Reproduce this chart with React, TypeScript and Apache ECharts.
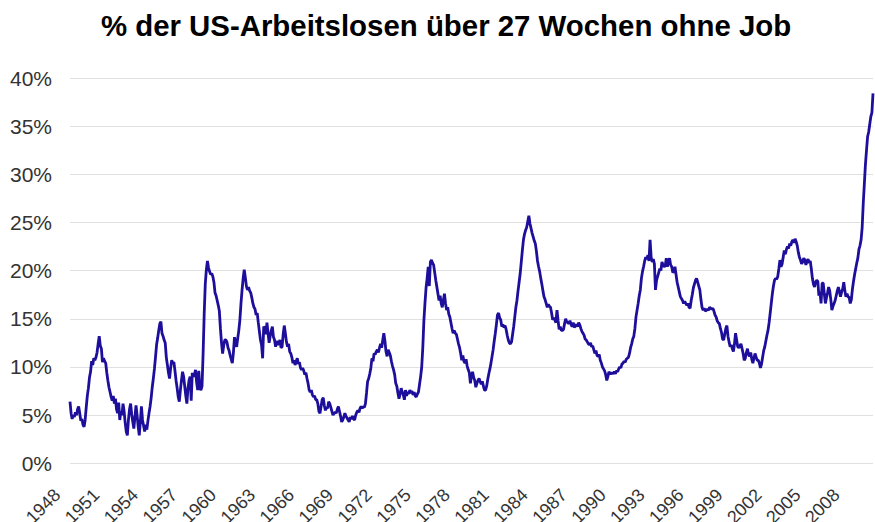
import { useEffect, useRef } from 'react';
import * as echarts from 'echarts';

const TITLE = '% der US-Arbeitslosen über 27 Wochen ohne Job';
const startYear = 1948;
const tickYears = [1948, 1951, 1954, 1957, 1960, 1963, 1966, 1969, 1972, 1975, 1978, 1981, 1984, 1987, 1990, 1993, 1996, 1999, 2002, 2005, 2008];
const yMin = 0;
const yMax = 40;
const yStep = 5;

// Monthly share (%) of unemployed out of work 27 weeks or longer
const values1948to1959 = [
  6.4, 5.2, 4.6, 5.0, 4.8, 5.3, 5.0, 5.6, 5.9, 5.2, 4.4, 4.6,
  4.0, 3.8, 4.5, 5.8, 7.0, 7.8, 8.9, 9.5, 10.6, 10.2, 10.9, 10.7,
  11.0, 11.5, 12.4, 13.2, 12.2, 11.9, 10.5, 10.9, 10.6, 10.4, 9.4, 8.6,
  7.9, 7.4, 6.9, 6.5, 7.0, 6.2, 6.7, 5.6, 5.2, 6.3, 4.5, 5.4,
  5.0, 6.2, 5.4, 4.2, 3.3, 2.9, 4.5, 5.6, 6.2, 5.1, 4.3, 3.6,
  4.8, 6.0, 5.0, 3.8, 2.9, 4.3, 5.9, 4.5, 3.9, 3.3, 4.0, 3.5,
  4.4, 5.2, 5.9, 6.8, 7.9, 8.8, 9.8, 11.0, 12.3, 13.0, 13.8, 14.5,
  14.7, 13.5, 13.2, 12.8, 12.5, 11.0, 10.2, 9.4, 8.8, 9.9, 10.7, 10.4,
  10.5, 9.6, 8.6, 7.8, 6.9, 6.4, 7.6, 8.6, 9.5, 9.0, 8.0, 7.0,
  6.2, 7.8, 8.6, 9.0, 6.5, 9.4, 9.0, 9.2, 9.7, 8.4, 7.6, 9.6,
  7.8, 7.6, 8.0, 11.4, 15.5, 18.6, 20.1, 21.0, 20.3, 19.9, 19.6, 19.7,
  19.4, 18.8, 17.7, 17.4, 16.9, 16.4, 15.8, 14.0, 12.5, 11.4, 12.2, 12.8,
];
const values1960to1969 = [
  12.8, 12.6, 12.0, 11.7, 11.2, 10.8, 10.4, 11.5, 13.1, 12.4, 12.1, 13.0,
  13.8, 14.9, 16.6, 18.0, 19.2, 20.1, 19.3, 18.4, 18.0, 18.3, 17.9, 17.7,
  17.2, 16.6, 16.2, 16.0, 15.4, 15.6, 14.6, 13.7, 12.8, 12.3, 10.9, 14.2,
  14.0, 13.4, 14.6, 13.5, 12.5, 13.2, 13.8, 14.2, 13.1, 12.8, 12.1, 12.7,
  12.3, 12.5, 12.8, 12.0, 12.1, 13.4, 14.3, 13.5, 12.6, 12.1, 12.4, 11.6,
  11.4, 11.0, 10.4, 10.7, 10.2, 10.6, 10.9, 10.3, 10.5, 9.9, 9.7, 9.9,
  9.6, 9.2, 9.4, 8.8, 8.3, 7.6, 7.4, 7.6, 7.1, 6.9, 7.0, 6.6,
  6.6, 6.2, 5.4, 5.2, 5.9, 6.6, 6.8, 6.0, 5.5, 5.8, 5.7, 6.4,
  6.2, 5.8, 5.4, 5.0, 5.2, 5.3, 5.2, 5.6, 5.9, 5.4, 4.9, 4.3,
  4.5, 4.8, 5.2, 4.9, 4.7, 4.5, 4.3, 4.8, 4.6, 4.9, 4.6, 4.5,
];
const values1970to1979 = [
  5.0, 5.3, 5.5, 5.3, 5.7, 5.9, 5.7, 5.9, 5.8, 6.2, 7.3, 8.5,
  8.8, 9.3, 9.9, 10.9, 10.6, 11.4, 11.3, 11.6, 11.8, 11.5, 12.0, 12.4,
  12.0, 12.8, 13.5, 12.7, 11.6, 11.1, 11.8, 11.5, 11.2, 10.6, 10.1, 9.7,
  9.2, 8.3, 8.0, 7.3, 6.7, 7.2, 7.8, 7.4, 7.1, 6.6, 7.6, 7.0,
  7.4, 7.2, 7.6, 7.3, 7.5, 7.1, 7.4, 7.0, 6.9, 7.2, 7.4, 8.2,
  9.0, 10.0, 12.0, 14.8, 16.6, 18.2, 19.2, 20.4, 18.4, 20.9, 21.1, 20.8,
  20.6, 19.8, 19.0, 18.3, 17.6, 16.9, 17.4, 16.6, 16.2, 16.9, 17.6, 16.6,
  15.9, 16.2, 15.5, 15.2, 14.6, 14.0, 13.5, 13.8, 13.5, 13.4, 12.9, 12.4,
  12.0, 11.4, 10.7, 11.2, 10.6, 10.4, 10.8, 10.1, 9.7, 9.4, 8.3, 9.1,
  9.5, 8.9, 8.6, 7.9, 8.3, 8.6, 8.8, 8.5, 8.2, 8.5, 8.0, 7.6,
];
const values1980to1989 = [
  7.6, 8.0, 8.7, 9.3, 9.8, 10.4, 11.1, 11.8, 12.7, 13.5, 14.4, 15.4,
  15.6, 15.1, 14.9, 14.2, 14.4, 14.1, 14.3, 13.9, 13.3, 12.8, 12.5, 12.4,
  12.6, 13.4, 14.2, 15.2, 16.2, 16.9, 17.9, 18.8, 19.7, 20.9, 22.1, 23.2,
  23.8, 24.2, 24.5, 25.1, 25.7, 24.9, 24.4, 23.9, 23.5, 23.1, 22.8, 22.0,
  21.0, 20.4, 19.9, 19.2, 18.6, 17.9, 17.3, 17.0, 16.6, 16.2, 16.5, 16.3,
  16.2, 15.6, 14.9, 15.1, 14.9, 14.6, 15.9, 14.8, 13.9, 14.2, 13.8, 13.8,
  13.9, 14.5, 15.0, 14.7, 14.6, 14.5, 14.8, 14.4, 14.2, 14.6, 14.1, 14.3,
  14.4, 14.2, 14.6, 14.4, 14.0, 13.7, 13.5, 13.3, 12.9, 12.8, 12.6, 12.4,
  12.3, 12.5, 12.1, 12.2, 11.8, 11.4, 11.7, 11.2, 11.1, 11.3, 10.7, 10.4,
  10.0, 9.8, 9.6, 9.2, 8.6, 9.0, 9.5, 9.3, 9.3, 9.4, 9.3, 9.5,
];
const values1990to1999 = [
  9.3, 9.6, 9.5, 9.8, 10.0, 9.9, 10.3, 10.4, 10.6, 10.5, 10.8, 10.9,
  11.0, 11.4, 12.0, 12.4, 12.9, 13.2, 14.0, 15.2, 15.9, 16.6, 17.4, 18.0,
  19.2, 19.9, 20.4, 21.0, 21.4, 21.2, 21.6, 21.0, 23.2, 21.4, 20.9, 21.2,
  20.7, 18.0, 19.0, 19.4, 19.8, 20.2, 20.0, 20.9, 20.6, 20.4, 20.5, 21.3,
  20.4, 21.0, 21.3, 20.6, 20.4, 19.8, 19.9, 20.4, 19.6, 18.8, 18.3, 17.8,
  17.3, 17.1, 16.9, 16.6, 16.8, 16.6, 16.4, 16.6, 16.2, 16.1, 16.9, 17.5,
  18.2, 18.6, 19.0, 19.2, 18.8, 18.4, 18.0, 17.0, 16.2, 15.9, 16.1, 15.8,
  15.9, 16.0, 15.9, 16.2, 16.1, 16.0, 16.1, 15.8, 15.4, 15.2, 14.8, 14.6,
  14.5, 14.0, 13.6, 12.9, 12.8, 13.4, 14.0, 14.3, 13.2, 12.6, 12.1, 12.3,
  11.9, 11.6, 12.4, 13.5, 12.8, 12.1, 12.0, 12.2, 12.4, 11.9, 11.4, 10.7,
];
const values2000to2009 = [
  10.9, 11.5, 11.9, 11.3, 11.1, 11.5, 10.8, 10.4, 10.9, 11.4, 11.0, 10.7,
  10.7, 10.4, 9.9, 10.3, 11.0, 11.7, 12.1, 12.7, 13.3, 13.8, 14.6, 15.6,
  16.6, 17.6, 18.4, 19.0, 19.2, 19.1, 19.4, 20.2, 21.1, 20.4, 20.7, 21.4,
  22.1, 21.7, 22.2, 22.5, 22.3, 22.8, 22.6, 23.0, 23.2, 22.9, 23.3, 23.0,
  22.6, 21.9, 21.4, 21.1, 20.7, 20.9, 21.3, 21.1, 20.6, 21.0, 21.2, 20.8,
  21.0, 20.2, 19.2, 18.6, 18.3, 18.8, 19.0, 18.9, 17.4, 17.8, 16.6, 18.7,
  18.7, 17.6, 16.6, 17.2, 17.7, 18.3, 17.9, 17.0, 15.9, 16.3, 16.6, 16.9,
  17.4, 17.9, 18.3, 17.8, 17.3, 17.8, 18.1, 18.8, 17.9, 17.3, 17.6, 17.3,
  17.2, 16.6, 17.0, 18.1, 18.9, 19.6, 20.2, 20.8, 21.3, 22.2, 22.6, 23.2,
  24.5, 27.0, 29.0, 31.0, 32.5, 33.9, 34.4, 35.2, 36.0, 36.4, 38.4,
];

const values = [
  ...values1948to1959,
  ...values1960to1969,
  ...values1970to1979,
  ...values1980to1989,
  ...values1990to1999,
  ...values2000to2009,
];
const categories = values.map((_, i) => {
  const y = startYear + Math.floor(i / 12);
  const m = (i % 12) + 1;
  return `${y}-${m < 10 ? '0' + m : m}`;
});

const FONT = "'Liberation Sans', Arial, Helvetica, sans-serif";

export default function App() {
  const ref = useRef<HTMLDivElement>(null);
  useEffect(() => {
    if (!ref.current) return;
    const chart = echarts.init(ref.current, undefined, { renderer: 'svg' });
    chart.setOption({
      animation: false,
      backgroundColor: '#ffffff',
      title: {
        text: TITLE,
        left: 441,
        top: 6,
        textAlign: 'center',
        textStyle: { fontFamily: FONT, fontSize: 29.4, fontWeight: 'bold', color: '#000000' },
      },
      grid: { left: 70, right: 2, top: 78, bottom: 58.7, containLabel: false, outerBoundsMode: 'none' },
      xAxis: {
        type: 'category',
        data: categories,
        boundaryGap: false,
        axisLine: { show: false },
        axisTick: { show: false },
        splitLine: { show: false },
        axisLabel: {
          interval: (i: number, v: string) => i % 12 === 0 && tickYears.includes(Number(String(v).slice(0, 4))),
          formatter: (v: string) => String(v).slice(0, 4),
          rotate: 45,
          margin: 16,
          padding: [0, 18, 0, 0],
          fontSize: 18,
          color: '#333333',
          fontFamily: FONT,
        },
      },
      yAxis: {
        type: 'value',
        min: yMin,
        max: yMax,
        interval: yStep,
        axisLine: { show: false },
        axisTick: { show: false },
        axisLabel: { formatter: '{value}%', fontSize: 21, margin: 18, color: '#333333', fontFamily: FONT },
        splitLine: { lineStyle: { color: '#e0e0e0', width: 1 } },
      },
      series: [
        {
          type: 'line',
          data: values,
          symbol: 'none',
          lineStyle: { color: '#1d0f9b', width: 2.8 },
          itemStyle: { color: '#1d0f9b' },
        },
      ],
    });
    return () => chart.dispose();
  }, []);
  return <div ref={ref} style={{ position: 'absolute', left: 0, top: 0, width: 875, height: 522 }} />;
}
